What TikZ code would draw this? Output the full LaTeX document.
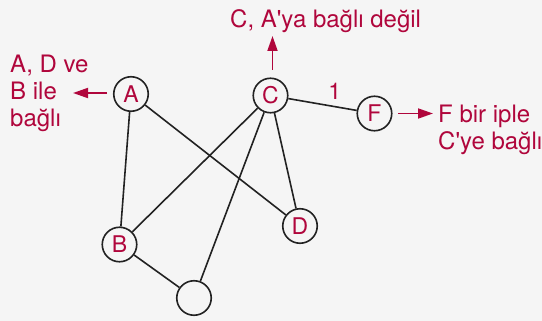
\documentclass[tikz,border=0pt]{standalone}
\usepackage{fontspec}
\newfontfamily\heros{TeX Gyre Heros}
\usetikzlibrary{arrows.meta}
\definecolor{crimson}{HTML}{B0063C}
\definecolor{paper}{HTML}{F5F5F5}
\definecolor{ink}{HTML}{222222}
\tikzstyle{vertex} = [circle, draw=ink, line width=1.6pt, fill=paper, minimum size=34.5pt, inner sep=0pt, text=crimson, font=\heros\fontsize{23}{27}\selectfont]
\tikzstyle{remark} = [text=crimson, align=left, inner sep=0pt, font=\heros\fontsize{24}{27}\selectfont]
\tikzstyle{pointer} = [draw=crimson, line width=1.8pt, -{Triangle[length=15pt, width=10pt]}]

\begin{document}
\begin{tikzpicture}[x=1pt, y=-1pt]
	\fill[paper] (0,0) rectangle (542,321);
	\useasboundingbox (0,0) rectangle (542,321);

	\node[vertex] (A) at (131,94) {A};
	\node[vertex] (C) at (270.5,95.5) {C};
	\node[vertex] (F) at (374.5,113.5) {F};
	\node[vertex] (D) at (300,226) {D};
	\node[vertex] (B) at (119.5,244.5) {B};
	\node[vertex] (E) at (194,298) {};

	\begin{scope}[draw=ink, line width=1.6pt]
		\draw (A) -- (B);
		\draw (A) -- (D);
		\draw (C) -- (B);
		\draw (C) -- (E);
		\draw (C) -- (D);
		\draw (B) -- (E);
		\draw (C) -- (F)
			node[pos=0.68, above=3pt, text=crimson, font=\heros\fontsize{23}{27}\selectfont] {1};
	\end{scope}

	\coordinate (Atip) at (73,93);
	\coordinate (Ctip) at (272.5,36);
	\coordinate (Ftip) at (433,113.5);
	\draw[pointer] (107,93) -- (Atip);
	\draw[pointer] (272.5,70) -- (Ctip);
	\draw[pointer] (398,113.5) -- (Ftip);

	\node[remark, anchor=north west] (Anote) at (10,54.5) {A, D ve\\B ile\\bağlı};
	\node[remark, anchor=base west] (Cnote) at (230,27.3) {C, A'ya bağlı değil};
	\node[remark, anchor=north west] (Fnote) at (438,104.5) {F bir iple\\C'ye bağlı};
\end{tikzpicture}
\end{document}
